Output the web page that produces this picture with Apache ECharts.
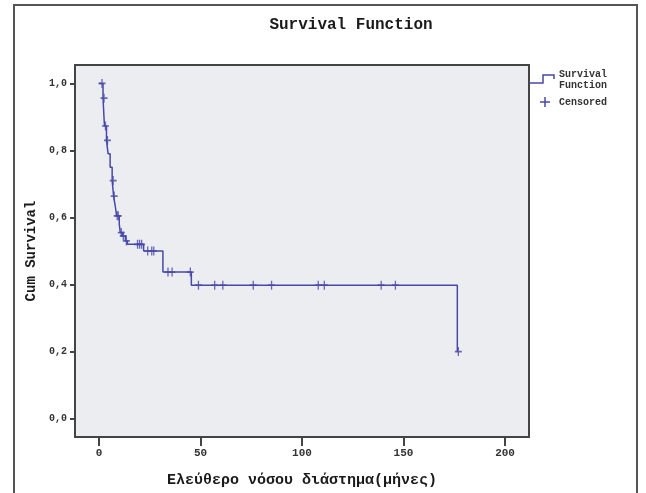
<html>
<head>
<meta charset="UTF-8" />
<script src="https://cdn.jsdelivr.net/npm/echarts@6/dist/echarts.min.js"></script>
</head>
<style type="text/css">
    *{
        margin: 0;
        padding: 0;
    }
    body{
        background-color: #ffffff;
    }
    #chart{
        width: 646px;
        height: 493px;
    }
</style>
<body>
<div id="chart"></div>
<script type="text/javascript">
    // Kaplan-Meier steps: time (months) and survival after the drop
    var survTime = [0, 2, 2.7, 3.7, 4.5, 5.5, 6.5, 7.2, 8, 8.7, 10, 10.5, 11.5, 13, 14, 22, 31.5, 45.5, 176.5, 177];
    var survProb = [1.0, 0.956, 0.873, 0.83, 0.79, 0.75, 0.71, 0.664, 0.635, 0.605, 0.58, 0.555, 0.545, 0.53, 0.52, 0.5, 0.437, 0.398, 0.2, 0.2];
    // censored cases
    var censTime = [1.5, 2.5, 3.2, 4.2, 7, 7.5, 9, 9.5, 11, 12, 13.5, 19, 20, 21, 24, 26, 27, 34, 36, 45, 49, 57, 61, 76, 85, 108, 111, 139, 146, 177];
    var censProb = [1.0, 0.956, 0.873, 0.83, 0.71, 0.664, 0.605, 0.605, 0.555, 0.545, 0.53, 0.52, 0.52, 0.52, 0.5, 0.5, 0.5, 0.437, 0.437, 0.437, 0.398, 0.398, 0.398, 0.398, 0.398, 0.398, 0.398, 0.398, 0.398, 0.2];
    var xTicks = [0, 50, 100, 150, 200];
    var yTicks = [0, 0.2, 0.4, 0.6, 0.8, 1.0];

    var lineColor = '#4848a8';
    var font = '"Liberation Mono", "DejaVu Sans Mono", monospace';
    var plus = 'path://M5,0 L5,10 M0,5 L10,5';

    var survData = [];
    for (var i = 0; i < survTime.length; i++) {
        survData.push([survTime[i], survProb[i]]);
    }
    var censData = [];
    for (var j = 0; j < censTime.length; j++) {
        censData.push([censTime[j], censProb[j]]);
    }

    function comma(v) {
        return v.toFixed(1).replace('.', ',');
    }

    var myChart = echarts.init(document.getElementById('chart'));
    var option = {
        animation: false,
        title: {
            text: 'Survival Function',
            left: 346,
            top: 12,
            textAlign: 'center',
            textStyle: { fontFamily: font, fontSize: 16, fontWeight: 'bold', color: '#1a1a1a' }
        },
        grid: {
            left: 75, top: 65, width: 454, height: 376,
            show: true,
            backgroundColor: '#ebedf0',
            borderColor: '#444',
            borderWidth: 2
        },
        xAxis: {
            type: 'value',
            min: -11.8,
            max: 211.8,
            name: 'Ελεύθερο νόσου διάστημα(μήνες)',
            nameLocation: 'middle',
            nameGap: 36,
            nameTextStyle: { fontFamily: font, fontSize: 15, fontWeight: 'bold', color: '#1a1a1a' },
            axisLine: { onZero: false, lineStyle: { color: '#444', width: 2 } },
            axisTick: { customValues: xTicks, length: 9, lineStyle: { color: '#444', width: 2 } },
            axisLabel: { customValues: xTicks, margin: 11, fontFamily: font, fontSize: 11, fontWeight: 'bold', color: '#333' },
            splitLine: { show: false }
        },
        yAxis: {
            type: 'value',
            min: -0.055,
            max: 1.055,
            name: 'Cum Survival',
            nameLocation: 'middle',
            nameGap: 37,
            nameTextStyle: { fontFamily: font, fontSize: 14, fontWeight: 'bold', color: '#1a1a1a' },
            axisLine: { onZero: false, lineStyle: { color: '#444', width: 2 } },
            axisTick: { customValues: yTicks, length: 5, lineStyle: { color: '#444', width: 2 } },
            axisLabel: { customValues: yTicks, margin: 8, fontFamily: font, fontSize: 10, fontWeight: 'bold', color: '#333', formatter: comma },
            splitLine: { show: false }
        },
        graphic: [
            // outer frame
            { type: 'rect', shape: { x: 14, y: 5, width: 623, height: 500 }, style: { fill: 'none', stroke: '#555', lineWidth: 2 }, silent: true },
            // legend
            { type: 'polyline', shape: { points: [[529, 83], [543, 83], [543, 75], [554, 75], [554, 79]] }, style: { fill: 'none', stroke: lineColor, lineWidth: 1.5 } },
            { type: 'text', left: 559, top: 69, style: { text: 'Survival\nFunction', fontFamily: font, fontSize: 10, fontWeight: 'bold', lineHeight: 11, fill: '#333' } },
            { type: 'polyline', shape: { points: [[545, 97], [545, 107]] }, style: { fill: 'none', stroke: lineColor, lineWidth: 1.5 } },
            { type: 'polyline', shape: { points: [[540, 102], [550, 102]] }, style: { fill: 'none', stroke: lineColor, lineWidth: 1.5 } },
            { type: 'text', left: 559, top: 97, style: { text: 'Censored', fontFamily: font, fontSize: 10, fontWeight: 'bold', fill: '#333' } }
        ],
        series: [{
            name: 'Survival Function',
            type: 'line',
            step: 'end',
            data: survData,
            showSymbol: false,
            lineStyle: { color: lineColor, width: 1.5 }
        }, {
            name: 'Censored',
            type: 'scatter',
            data: censData,
            symbol: plus,
            symbolSize: [7, 9],
            itemStyle: { color: 'none', borderColor: lineColor, borderWidth: 1.5 }
        }]
    };
    myChart.setOption(option);
</script>
</body>
</html>
